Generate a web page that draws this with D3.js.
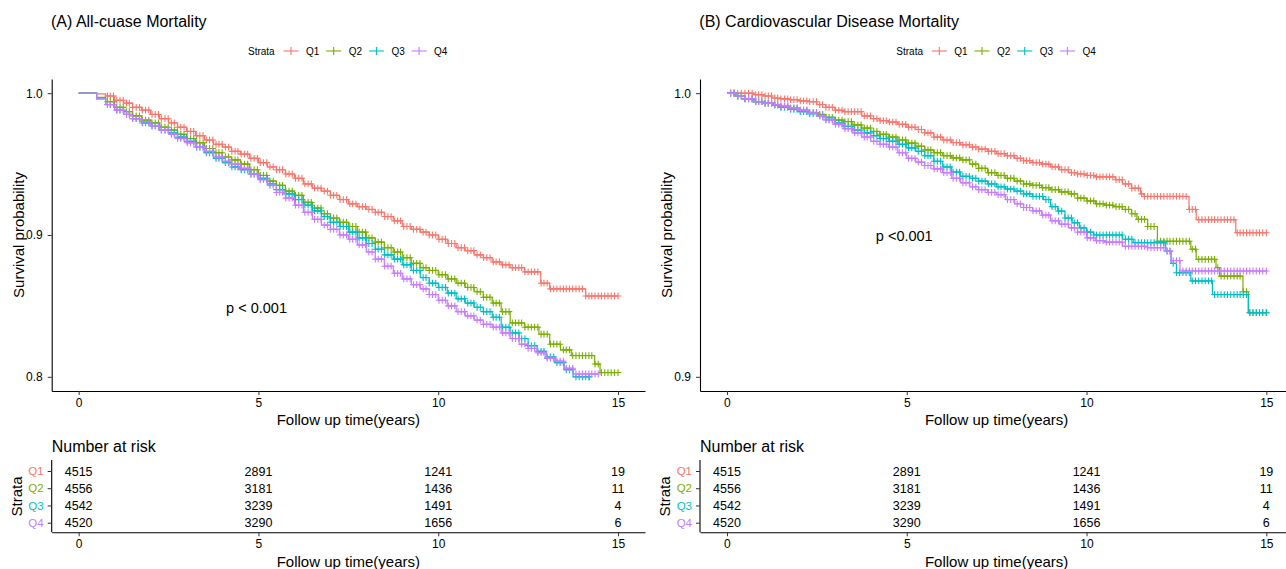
<!DOCTYPE html>
<html>
<head>
<meta charset="utf-8">
<script src="https://cdn.jsdelivr.net/npm/d3@7"></script>
<style>
  body { margin: 0; background: #fff; }
  svg text { font-family: "Liberation Sans", Arial, sans-serif; }
</style>
</head>
<body>
<svg id="chart" width="1286" height="569"></svg>
<script>
'use strict';

//  Data

var strata = ["Q1", "Q2", "Q3", "Q4"];
var strataColors = ["#F8766D", "#7CAE00", "#00BFC4", "#C77CFF"];
var timeTicks = [0, 5, 10, 15];

// (A) all-cause mortality, step points [time, survival]
var allCauseQ1 = [[0,1],[0.5,0.9995],[0.75,0.998],[1.0,0.995],[1.25,0.993],[1.5,0.990],[1.75,0.988],[2.0,0.985],[2.25,0.982],[2.5,0.979],[2.75,0.976],[3.0,0.973],[3.25,0.970],[3.5,0.967],[3.75,0.964],[4.0,0.962],[4.25,0.959],[4.5,0.957],[4.75,0.954],[5.0,0.951],[5.25,0.948],[5.5,0.946],[5.75,0.943],[6.0,0.940],[6.25,0.936],[6.5,0.933],[6.75,0.931],[7.0,0.928],[7.25,0.925],[7.5,0.922],[7.75,0.920],[8.0,0.918],[8.25,0.916],[8.5,0.913],[8.75,0.910],[9.0,0.906],[9.25,0.904],[9.5,0.902],[9.75,0.900],[10.0,0.897],[10.25,0.894],[10.5,0.891],[10.75,0.889],[11.0,0.886],[11.25,0.884],[11.5,0.881],[11.75,0.879],[12.0,0.877],[12.4,0.874],[12.85,0.866],[13.1,0.862],[14.1,0.857],[15.0,0.857]];
var allCauseQ2 = [[0,1],[0.5,0.997],[0.75,0.994],[1.0,0.990],[1.25,0.987],[1.5,0.984],[1.75,0.981],[2.0,0.979],[2.25,0.976],[2.5,0.974],[2.75,0.971],[3.0,0.968],[3.25,0.965],[3.5,0.961],[3.75,0.958],[4.0,0.955],[4.25,0.953],[4.5,0.950],[4.75,0.946],[5.0,0.942],[5.25,0.938],[5.5,0.935],[5.75,0.931],[6.0,0.928],[6.25,0.923],[6.5,0.919],[6.75,0.915],[7.0,0.912],[7.25,0.909],[7.5,0.906],[7.75,0.902],[8.0,0.898],[8.25,0.895],[8.5,0.891],[8.75,0.888],[9.0,0.884],[9.25,0.880],[9.5,0.877],[9.75,0.875],[10.0,0.872],[10.25,0.869],[10.5,0.866],[10.75,0.863],[11.0,0.860],[11.25,0.856],[11.5,0.852],[11.75,0.846],[12.0,0.838],[12.4,0.835],[12.8,0.830],[13.1,0.823],[13.4,0.819],[13.7,0.815],[14.35,0.809],[14.5,0.803],[15.0,0.803]];
var allCauseQ3 = [[0,1],[0.5,0.996],[0.75,0.992],[1.0,0.988],[1.25,0.985],[1.5,0.982],[1.75,0.979],[2.0,0.977],[2.25,0.974],[2.5,0.972],[2.75,0.969],[3.0,0.966],[3.25,0.962],[3.5,0.958],[3.75,0.954],[4.0,0.951],[4.25,0.948],[4.5,0.946],[4.75,0.943],[5.0,0.940],[5.25,0.936],[5.5,0.932],[5.75,0.929],[6.0,0.925],[6.25,0.921],[6.5,0.917],[6.75,0.913],[7.0,0.909],[7.25,0.906],[7.5,0.902],[7.75,0.898],[8.0,0.894],[8.25,0.890],[8.5,0.886],[8.75,0.883],[9.0,0.879],[9.25,0.875],[9.5,0.870],[9.75,0.866],[10.0,0.863],[10.25,0.859],[10.5,0.855],[10.75,0.852],[11.0,0.849],[11.25,0.846],[11.5,0.842],[11.75,0.835],[12.0,0.831],[12.25,0.827],[12.5,0.822],[12.75,0.818],[13.0,0.814],[13.25,0.810],[13.5,0.805],[13.75,0.800],[14.2,0.800]];
var allCauseQ4 = [[0,1],[0.5,0.996],[0.75,0.992],[1.0,0.988],[1.25,0.985],[1.5,0.982],[1.75,0.980],[2.0,0.977],[2.25,0.974],[2.5,0.971],[2.75,0.968],[3.0,0.965],[3.25,0.962],[3.5,0.959],[3.75,0.955],[4.0,0.952],[4.25,0.950],[4.5,0.947],[4.75,0.943],[5.0,0.939],[5.25,0.935],[5.5,0.930],[5.75,0.926],[6.0,0.921],[6.25,0.916],[6.5,0.911],[6.75,0.907],[7.0,0.904],[7.25,0.900],[7.5,0.897],[7.75,0.893],[8.0,0.888],[8.25,0.883],[8.5,0.878],[8.75,0.873],[9.0,0.869],[9.25,0.865],[9.5,0.862],[9.75,0.858],[10.0,0.854],[10.25,0.850],[10.5,0.846],[10.75,0.843],[11.0,0.840],[11.25,0.837],[11.5,0.835],[11.75,0.831],[12.0,0.827],[12.25,0.823],[12.5,0.820],[12.75,0.817],[13.0,0.813],[13.25,0.811],[13.5,0.806],[13.75,0.802],[14.45,0.802]];

// (B) cardiovascular disease mortality
var cvdQ1 = [[0,1],[0.75,0.9995],[1.0,0.999],[1.25,0.9983],[1.5,0.998],[1.75,0.9977],[2.0,0.9973],[2.25,0.997],[2.5,0.996],[2.75,0.995],[3.0,0.994],[3.25,0.9935],[3.75,0.992],[4.0,0.991],[4.25,0.9903],[4.5,0.9898],[4.75,0.989],[5.0,0.988],[5.25,0.9872],[5.5,0.986],[5.75,0.9845],[6.0,0.9835],[6.25,0.9826],[6.5,0.9818],[6.75,0.981],[7.0,0.9803],[7.25,0.9795],[7.5,0.9787],[7.75,0.978],[8.0,0.977],[8.25,0.9762],[8.5,0.9755],[8.75,0.975],[9.0,0.974],[9.25,0.973],[9.5,0.972],[9.75,0.9715],[10.0,0.971],[10.25,0.9705],[10.8,0.9695],[11.0,0.968],[11.25,0.9665],[11.5,0.9645],[11.6,0.9636],[12.85,0.959],[13.05,0.9554],[14.15,0.9508],[15.0,0.9508]];
var cvdQ2 = [[0,1],[0.25,0.999],[0.5,0.998],[0.75,0.997],[1.0,0.9965],[1.25,0.996],[1.5,0.9953],[1.75,0.9947],[2.0,0.994],[2.25,0.9932],[2.5,0.9925],[2.75,0.9915],[3.0,0.9905],[3.25,0.990],[3.5,0.9888],[3.75,0.9877],[4.0,0.9865],[4.25,0.9855],[4.5,0.9845],[4.75,0.9835],[5.0,0.9824],[5.25,0.9813],[5.5,0.980],[5.75,0.979],[6.0,0.978],[6.25,0.9772],[6.5,0.9765],[6.75,0.975],[7.0,0.9735],[7.25,0.972],[7.5,0.971],[7.75,0.970],[8.0,0.969],[8.25,0.968],[8.5,0.9675],[8.75,0.9667],[9.0,0.966],[9.25,0.9652],[9.5,0.9645],[9.75,0.963],[10.0,0.962],[10.25,0.961],[10.5,0.9605],[10.75,0.960],[11.0,0.959],[11.25,0.9575],[11.4,0.9555],[11.7,0.953],[11.97,0.9478],[12.9,0.945],[13.05,0.9414],[13.6,0.9385],[13.7,0.9355],[14.35,0.930],[14.5,0.9226],[15.0,0.9226]];
var cvdQ3 = [[0,1],[0.25,0.999],[0.5,0.998],[0.75,0.997],[1.0,0.9965],[1.25,0.9958],[1.5,0.995],[1.75,0.9943],[2.0,0.9935],[2.25,0.9928],[2.5,0.992],[2.75,0.9908],[3.0,0.9895],[3.25,0.9883],[3.5,0.987],[3.75,0.986],[4.0,0.985],[4.25,0.984],[4.5,0.983],[4.75,0.982],[5.0,0.9807],[5.25,0.9795],[5.5,0.978],[5.75,0.976],[6.0,0.974],[6.25,0.9722],[6.5,0.9707],[6.75,0.970],[7.0,0.969],[7.25,0.968],[7.5,0.967],[7.75,0.9662],[8.0,0.9655],[8.25,0.9645],[8.5,0.9636],[8.8,0.9625],[9.0,0.960],[9.2,0.9584],[9.4,0.956],[9.6,0.9543],[9.8,0.9525],[10.0,0.951],[10.2,0.950],[11.0,0.9485],[11.3,0.9473],[12.2,0.9443],[12.35,0.940],[12.5,0.9367],[12.9,0.9338],[13.5,0.929],[14.5,0.9226],[15.0,0.9226]];
var cvdQ4 = [[0,1],[0.25,0.999],[0.5,0.998],[0.75,0.997],[1.0,0.9965],[1.25,0.996],[1.5,0.9955],[1.75,0.9948],[2.0,0.994],[2.25,0.993],[2.5,0.992],[2.75,0.9905],[3.0,0.989],[3.25,0.9875],[3.5,0.986],[3.75,0.9845],[4.0,0.983],[4.25,0.982],[4.5,0.981],[4.75,0.979],[5.0,0.977],[5.25,0.9757],[5.5,0.9745],[5.75,0.9733],[6.0,0.972],[6.25,0.970],[6.5,0.9684],[6.75,0.967],[7.0,0.966],[7.25,0.965],[7.5,0.9642],[7.75,0.9625],[8.0,0.961],[8.25,0.9597],[8.5,0.9585],[8.75,0.957],[9.0,0.955],[9.25,0.9538],[9.5,0.9525],[9.75,0.951],[10.0,0.949],[10.25,0.948],[10.5,0.9475],[11.0,0.946],[11.7,0.9455],[12.2,0.9443],[12.35,0.941],[12.6,0.9373],[15.0,0.9373]];

// censoring times (+ marks)
var censorTimes = [0.8,0.88,0.97,1.06,1.15,1.24,1.33,1.41,1.5,1.6,1.69,1.77,1.86,1.95,2.04,2.13,2.22,2.3,2.4,2.49,2.58,2.66,2.75,2.84,2.93,3.02,3.11,3.2,3.28,3.37,3.46,3.55,3.64,3.73,3.82,3.9,3.99,4.08,4.17,4.26,4.35,4.43,4.52,4.61,4.7,4.79,4.88,4.97,5.05,5.14,5.23,5.32,5.41,5.5,5.59,5.67,5.76,5.85,5.94,6.03,6.12,6.21,6.29,6.38,6.47,6.56,6.65,6.74,6.83,6.92,7.0,7.09,7.18,7.27,7.36,7.45,7.54,7.62,7.71,7.8,7.89,7.98,8.07,8.16,8.25,8.33,8.42,8.51,8.6,8.69,8.78,8.87,8.95,9.04,9.13,9.22,9.31,9.4,9.49,9.58,9.66,9.75,9.84,9.93,10.02,10.11,10.2,10.28,10.37,10.46,10.55,10.64,10.73,10.82,10.91,10.99,11.08,11.17,11.26,11.35,11.44,11.53,11.61,11.7,11.79,11.88,11.97,12.06,12.15,12.24,12.32,12.41,12.5,12.59,12.68,12.77,12.86,12.94,13.03,13.12,13.21,13.3,13.39,13.48,13.56,13.65,13.74,13.83,13.92,14.01,14.1,14.19,14.27,14.36,14.45,14.54,14.63,14.72,14.81,14.9,15.0];
var earlyCensorTimesB = [0.1,0.2,0.3,0.4,0.5,0.6,0.7];

// number at risk
var riskTimes = [0, 5, 10, 15];
var riskQ1 = [4515, 2891, 1241, 19];
var riskQ2 = [4556, 3181, 1436, 11];
var riskQ3 = [4542, 3239, 1491, 4];
var riskQ4 = [4520, 3290, 1656, 6];

var panels = [
  { title: "(A) All-cuase Mortality", curves: [allCauseQ1, allCauseQ2, allCauseQ3, allCauseQ4],
    yDomain: [0.79, 1.01], yTicks: [0.8, 0.9, 1.0], pText: "p < 0.001", pAt: [4.1, 0.845],
    censor: censorTimes, ox: 0 },
  { title: "(B) Cardiovascular Disease Mortality", curves: [cvdQ1, cvdQ2, cvdQ3, cvdQ4],
    yDomain: [0.895, 1.005], yTicks: [0.9, 1.0], pText: "p <0.001", pAt: [4.14, 0.9478],
    censor: earlyCensorTimesB.concat(censorTimes), ox: 648.3 }
];
var riskRows = [riskQ1, riskQ2, riskQ3, riskQ4];

var svg = d3.select("#chart");
svg.append("rect").attr("width", 1286).attr("height", 569).attr("fill", "#fff");

function survAt(curve, t) {
  var s = 1;
  curve.forEach(function(p) { if (p[0] <= t) s = p[1]; });
  return s;
}

function styleAxis(g, size) {
  g.select(".domain").attr("stroke", "#000").attr("stroke-width", 1.1);
  g.selectAll(".tick line").attr("stroke", "#333").attr("stroke-width", 1);
  g.selectAll(".tick text").attr("font-size", size).attr("fill", "#000");
}

panels.forEach(function(p) {
  var ox = p.ox;
  var g = svg.append("g").attr("fill", "#000");

  var x = d3.scaleLinear().domain([-0.75, 15.75]).range([51.7 + ox, 645 + ox]);
  var y = d3.scaleLinear().domain(p.yDomain).range([391, 79]);

  // title
  g.append("text").attr("x", 51 + ox).attr("y", 27).attr("font-size", 16).text(p.title);

  // legend
  var leg = g.append("g").attr("transform", "translate(" + (248 + ox) + ",54.6)");
  leg.append("text").attr("x", 0).attr("y", 0).attr("font-size", 10).text("Strata");
  strata.forEach(function(s, i) {
    var cx = 43 + 42.7 * i;
    var it = leg.append("g").attr("stroke", strataColors[i]).attr("stroke-width", 1.1);
    it.append("line").attr("x1", cx - 7.5).attr("x2", cx + 7.5).attr("y1", -3.6).attr("y2", -3.6);
    it.append("line").attr("x1", cx).attr("x2", cx).attr("y1", -7.5).attr("y2", 0.3);
    leg.append("text").attr("x", cx + 15).attr("y", 0).attr("font-size", 10).text(s);
  });

  // axes
  var gx = g.append("g").attr("transform", "translate(0,391)")
    .call(d3.axisBottom(x).tickValues(timeTicks).tickSize(4).tickSizeOuter(0).tickPadding(3.5));
  styleAxis(gx, 12);
  var gy = g.append("g").attr("transform", "translate(" + (51.7 + ox) + ",0)")
    .call(d3.axisLeft(y).tickValues(p.yTicks).tickFormat(d3.format(".1f")).tickSize(4).tickSizeOuter(0).tickPadding(5));
  styleAxis(gy, 12);

  g.append("text").attr("x", (51.7 + 645) / 2 + ox).attr("y", 424.5).attr("text-anchor", "middle")
    .attr("font-size", 15).text("Follow up time(years)");
  g.append("text").attr("transform", "translate(" + (23.5 + ox) + ",235) rotate(-90)")
    .attr("text-anchor", "middle").attr("font-size", 15).text("Survival probability");

  // curves
  var line = d3.line().x(function(d) { return x(d[0]); }).y(function(d) { return y(d[1]); })
    .curve(d3.curveStepAfter);
  p.curves.forEach(function(curve, i) {
    var end = curve[curve.length - 1][0];
    var cg = g.append("g").attr("stroke", strataColors[i]).attr("fill", "none");
    cg.append("path").datum(curve).attr("d", line).attr("stroke-width", 1.2);
    var marks = p.censor.filter(function(t) { return t < end; }).concat([end]);
    cg.selectAll("path.cens").data(marks).enter().append("path").attr("class", "cens")
      .attr("stroke-width", 1.1)
      .attr("d", function(t) {
        var px = x(t), py = y(survAt(curve, t));
        return "M" + (px - 3.2) + "," + py + "H" + (px + 3.2) + "M" + px + "," + (py - 3.4) + "V" + (py + 3.4);
      });
  });

  // p value
  g.append("text").attr("x", x(p.pAt[0])).attr("y", y(p.pAt[1])).attr("font-size", 14.5).text(p.pText);

  // number at risk table
  g.append("text").attr("x", 51.7 + ox).attr("y", 452).attr("font-size", 16).text("Number at risk");
  var ry = d3.scalePoint().domain(strata).range([471, 522.7]);
  var rx = g.append("g").attr("transform", "translate(0,532.3)")
    .call(d3.axisBottom(x).tickValues(timeTicks).tickSize(4).tickSizeOuter(0).tickPadding(3.5));
  styleAxis(rx, 12);
  var rgy = g.append("g").attr("transform", "translate(" + (51.7 + ox) + ",0)")
    .call(d3.axisLeft(ry).tickSize(4).tickSizeOuter(0).tickPadding(4));
  rgy.select(".domain").attr("d", "M0,460V532.3");
  styleAxis(rgy, 11.5);
  rgy.selectAll(".tick text").attr("fill", function(d, i) { return strataColors[i]; });

  riskRows.forEach(function(row, i) {
    g.selectAll(null).data(row).enter().append("text")
      .attr("x", function(d, j) { return x(riskTimes[j]); })
      .attr("y", ry(strata[i]) + 4.5)
      .attr("text-anchor", "middle").attr("font-size", 12.5)
      .text(function(d) { return d; });
  });

  g.append("text").attr("transform", "translate(" + (22 + ox) + ",496.5) rotate(-90)")
    .attr("text-anchor", "middle").attr("font-size", 15).text("Strata");
  g.append("text").attr("x", (51.7 + 645) / 2 + ox).attr("y", 567).attr("text-anchor", "middle")
    .attr("font-size", 15).text("Follow up time(years)");
});
</script>
</body>
</html>
